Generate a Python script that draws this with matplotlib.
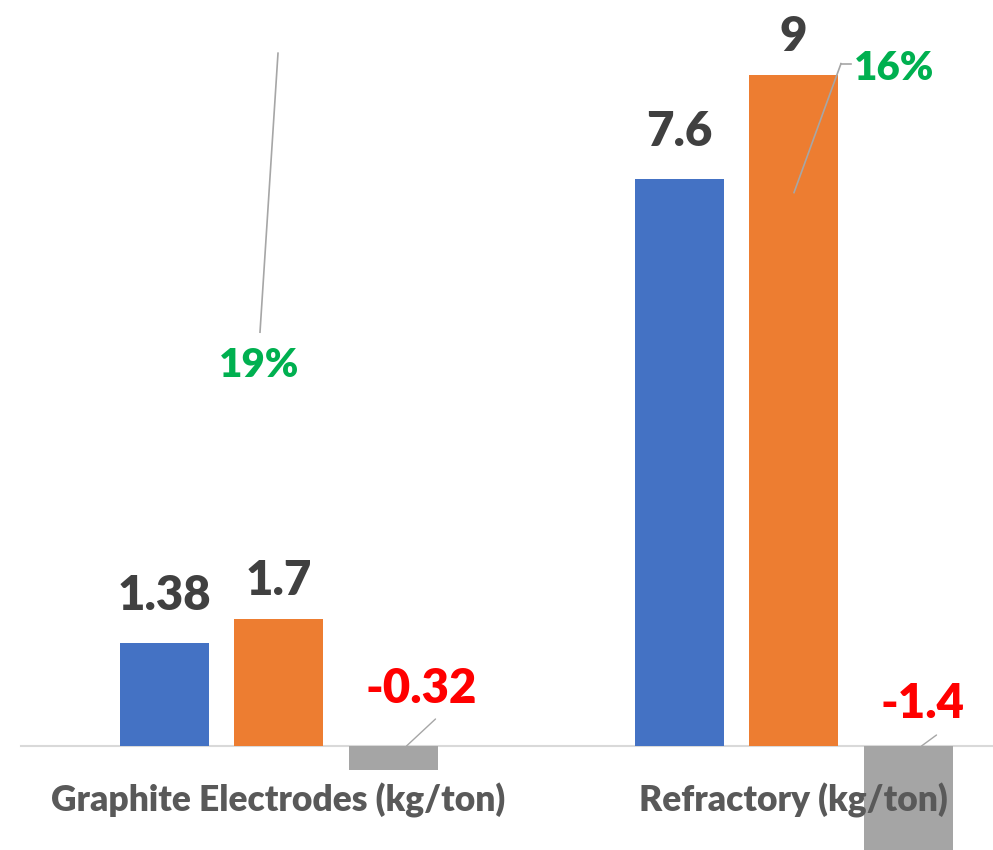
import numpy as np
import matplotlib.pyplot as plt

# chart values
categories = ['Graphite Electrodes (kg/ton)', 'Refractory (kg/ton)']
before = [1.38, 7.6]
after = [1.7, 9]
change = [-0.32, -1.4]
pct_labels = ['19%', '16%']

plt.rcParams['font.family'] = ['Lato', 'DejaVu Sans']

blue = '#4472C4'
orange = '#ED7D31'
grey = '#A5A5A5'
leader = '#A6A6A6'

fig = plt.figure(figsize=(9.93, 8.5), dpi=100)
ax = fig.add_axes([0, 0, 1, 1])

# pixel scales of the original layout
px_cat = 515.0
px_unit = 74.6
ax.set_xlim(-278.5 / px_cat, (993 - 278.5) / px_cat)
ax.set_ylim(-(850 - 746) / px_unit, 746 / px_unit)
ax.axis('off')

x = np.arange(len(categories))
step = 114.5 / px_cat
width = 89 / px_cat

ax.plot([-0.5, 1.5], [0, 0], color='#D9D9D9', lw=1.5, zorder=1)

ax.bar(x - step, before, width, color=blue, zorder=2)
ax.bar(x, after, width, color=orange, zorder=2)
ax.bar(x + step, change, width, color=grey, zorder=2)

val_kw = dict(textcoords='offset pixels', ha='center', va='baseline',
              fontsize=34, fontweight='heavy', color='#404040')
for i in range(len(categories)):
    ax.annotate(f'{before[i]:g}', xy=(x[i] - step, before[i]), xytext=(0, 33), **val_kw)
    ax.annotate(f'{after[i]:g}', xy=(x[i], after[i]), xytext=(0, 24), **val_kw)

# negative change labels with short leader lines
neg_text = [(28, 43), (14, 28)]
neg_line = [(29, 27), (15, 11)]
for i in range(len(categories)):
    xy = (x[i] + step, 0)
    ax.annotate(f'{change[i]:g}', xy=xy, xytext=neg_text[i], textcoords='offset pixels',
                ha='center', va='baseline', fontsize=34, fontweight='heavy', color='#FF0000')
    ax.annotate('', xy=(x[i] + step + 13.5 / px_cat, 0), xytext=neg_line[i],
                textcoords='offset pixels',
                arrowprops=dict(arrowstyle='-', color=leader, lw=1, shrinkA=0, shrinkB=0))

# percent labels on the orange bars
pct_text = [(-19, 242), (101, -5)]
pct_leaders = [[(-18.5, 287), (-0.5, 566)],
               [(0.5, -118), (47.5, 11), (57.5, 11)]]
for i in range(len(categories)):
    top = (x[i], after[i])
    ax.annotate(pct_labels[i], xy=top, xytext=pct_text[i], textcoords='offset pixels',
                ha='center', va='baseline', fontsize=29, fontweight='heavy', color='#00B050')
    pts = pct_leaders[i]
    for a, b in zip(pts[:-1], pts[1:]):
        xa = top[0] + a[0] / px_cat
        ya = top[1] + a[1] / px_unit
        xb = top[0] + b[0] / px_cat
        yb = top[1] + b[1] / px_unit
        ax.plot([xa, xb], [ya, yb], color=leader, lw=1.2, zorder=3)

for i, name in enumerate(categories):
    ax.text(x[i], 1 - 811 / 850, name, transform=ax.get_xaxis_transform(),
            ha='center', va='baseline', fontsize=25.5, fontweight='heavy', color='#595959',
            zorder=4)

fig.savefig('out.png', dpi=100)
